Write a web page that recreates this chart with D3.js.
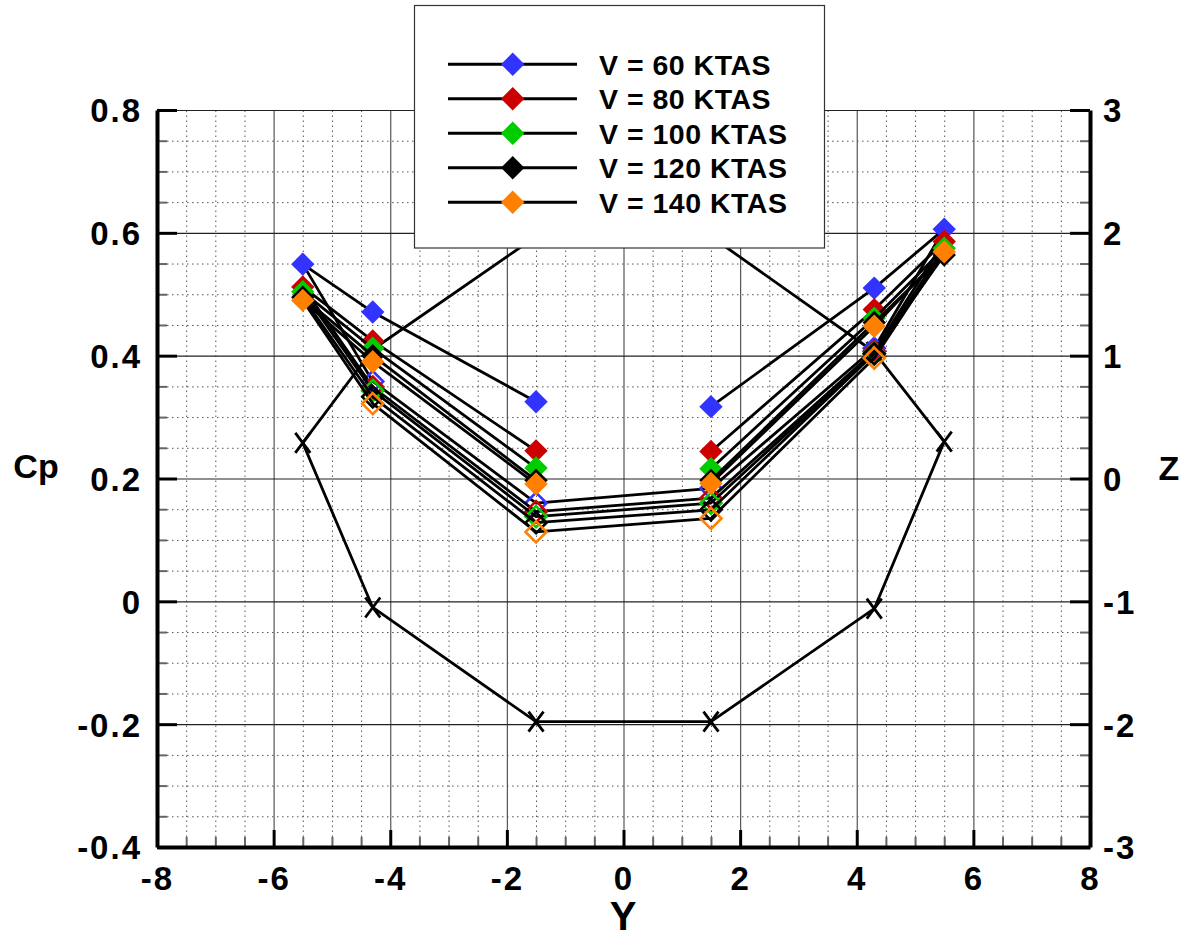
<!DOCTYPE html>
<html>
<head>
<meta charset="utf-8">
<script src="https://cdn.jsdelivr.net/npm/d3@7"></script>
<style>
  html, body { margin: 0; padding: 0; background: #fff; }
  svg { display: block; }
  text { font-family: "Liberation Sans", Arial, Helvetica, sans-serif; font-weight: bold; fill: #000; }
</style>
</head>
<body>
<svg id="chart" width="1189" height="940"></svg>
<script>
// ---------------- data ----------------
const stations = [-1.5, -4.3, -5.5, -4.3, -1.5, 1.5, 4.3, 5.5, 4.3, 1.5];
const surface  = ["top", "top", "side", "bot", "bot", "bot", "bot", "side", "top", "top"];

const seriesNames = ["V = 60 KTAS", "V = 80 KTAS", "V = 100 KTAS", "V = 120 KTAS", "V = 140 KTAS"];
const seriesColors = ["#3333ff", "#cc0000", "#00cc00", "#000000", "#ff8000"];

const cp60  = [0.325, 0.471, 0.549, 0.358, 0.160, 0.184, 0.412, 0.606, 0.510, 0.317];
const cp80  = [0.245, 0.424, 0.512, 0.349, 0.146, 0.168, 0.407, 0.586, 0.475, 0.244];
const cp100 = [0.217, 0.412, 0.504, 0.343, 0.138, 0.160, 0.404, 0.575, 0.461, 0.216];
const cp120 = [0.197, 0.400, 0.495, 0.333, 0.128, 0.149, 0.403, 0.564, 0.454, 0.197];
const cp140 = [0.191, 0.390, 0.490, 0.322, 0.113, 0.135, 0.396, 0.569, 0.448, 0.192];

const zValues = [1.97, 1.05, 0.29, -1.05, -1.98, -1.98, -1.06, 0.30, 1.03, 1.97];

const xTicks  = [-8, -6, -4, -2, 0, 2, 4, 6, 8];
const cpTicks = [-0.4, -0.2, 0, 0.2, 0.4, 0.6, 0.8];
const zTicks  = [-3, -2, -1, 0, 1, 2, 3];
const xMinor  = d3.range(-8, 8.001, 0.5);
const cpMinor = d3.range(-0.4, 0.8001, 0.05).map(v => +v.toFixed(2));
const zMinor  = d3.range(-3, 3.001, 0.25);

// ---------------- layout ----------------
const L = 157, R = 1090, T = 110, B = 847;
const svg = d3.select("#chart");

const x = d3.scaleLinear().domain([-8, 8]).range([L, R]);
const y = d3.scaleLinear().domain([-0.4, 0.8]).range([B, T]);
const z = d3.scaleLinear().domain([-3, 3]).range([B, T]);

const isMajor = (v, step) => Math.abs(v / step - Math.round(v / step)) < 1e-6;
const fmtInt = d => String(Math.round(d));            // plain hyphen minus
const fmtCp = d => Math.abs(d) < 1e-9 ? "0" : d.toFixed(1);

// ---------------- grid ----------------
const grid = svg.append("g");
grid.append("g").attr("transform", `translate(0,${B})`)
  .call(d3.axisBottom(x).tickValues(xMinor.filter(v => !isMajor(v, 2))).tickSize(-(B - T)).tickFormat(""))
  .call(g => g.select(".domain").remove())
  .call(g => g.selectAll("line").attr("stroke", "#555").attr("stroke-width", 1).attr("stroke-dasharray", "1.5,3.5"));
grid.append("g").attr("transform", `translate(${L},0)`)
  .call(d3.axisLeft(y).tickValues(cpMinor.filter(v => !isMajor(v, 0.2))).tickSize(-(R - L)).tickFormat(""))
  .call(g => g.select(".domain").remove())
  .call(g => g.selectAll("line").attr("stroke", "#555").attr("stroke-width", 1).attr("stroke-dasharray", "1.5,3.5"));
grid.append("g").attr("transform", `translate(0,${B})`)
  .call(d3.axisBottom(x).tickValues(xTicks.slice(1, -1)).tickSize(-(B - T)).tickFormat(""))
  .call(g => g.select(".domain").remove())
  .call(g => g.selectAll("line").attr("stroke", "#555").attr("stroke-width", 1.2));
grid.append("g").attr("transform", `translate(${L},0)`)
  .call(d3.axisLeft(y).tickValues(cpTicks.slice(1)).tickSize(-(R - L)).tickFormat(""))
  .call(g => g.select(".domain").remove())
  .call(g => g.selectAll("line").attr("stroke", "#222").attr("stroke-width", 1.2));

// ---------------- Z polyline ----------------
const zLine = d3.line().x((d, i) => x(stations[i])).y(d => z(d));
svg.append("path").datum(zValues).attr("d", zLine)
  .attr("fill", "none").attr("stroke", "#000").attr("stroke-width", 2.8).attr("stroke-linejoin", "round");
svg.append("g").selectAll("path").data(zValues).join("path")
  .attr("transform", (d, i) => `translate(${x(stations[i])},${z(d)})`)
  .attr("d", "M-7.5,-10L7.5,10M-7.5,10L7.5,-10")
  .attr("stroke", "#000").attr("stroke-width", 2.8).attr("fill", "none");

// ---------------- Cp series ----------------
const allCp = [cp60, cp80, cp100, cp120, cp140];
const cpLine = d3.line().x((d, i) => x(stations[i])).y(d => y(d));
const diamond = s => `M0,${-s}L${s},0L0,${s}L${-s},0Z`;

allCp.forEach((vals, k) => {
  const g = svg.append("g");
  g.append("path").datum(vals).attr("d", cpLine)
    .attr("fill", "none").attr("stroke", "#000").attr("stroke-width", 2.8).attr("stroke-linejoin", "round");
  g.selectAll("path.m").data(vals).join("path").attr("class", "m")
    .attr("transform", (d, i) => `translate(${x(stations[i])},${y(d)})`)
    .attr("d", (d, i) => surface[i] === "bot" ? diamond(10.5) : diamond(11.7))
    .attr("fill", (d, i) => surface[i] === "bot" ? "none" : seriesColors[k])
    .attr("stroke", (d, i) => surface[i] === "bot" ? seriesColors[k] : "none")
    .attr("stroke-width", 2.6);
});

// ---------------- axes ----------------
const styleAxis = (g, w) => g.select(".domain").attr("stroke", "#000").attr("stroke-width", w);
const labelStyle = g => g.selectAll("text").attr("font-size", 33).style("letter-spacing", "2px");

svg.append("g").attr("transform", `translate(${L},0)`)
  .call(d3.axisLeft(y).tickValues(cpMinor.filter(v => !isMajor(v, 0.2))).tickSize(-10).tickFormat("").tickSizeOuter(0))
  .call(g => g.select(".domain").remove())
  .call(g => g.selectAll("line").attr("stroke", "#666").attr("stroke-width", 2));
svg.append("g").attr("transform", `translate(${L},0)`)
  .call(d3.axisLeft(y).tickValues(cpTicks).tickSize(-20).tickPadding(15).tickSizeOuter(0).tickFormat(fmtCp))
  .call(g => styleAxis(g, 4))
  .call(g => g.selectAll("line").attr("stroke", "#000").attr("stroke-width", 3))
  .call(labelStyle)
  .call(g => g.selectAll("text").attr("dy", "0.36em"));

svg.append("g").attr("transform", `translate(${R},0)`)
  .call(d3.axisRight(z).tickValues(zMinor.filter(v => !isMajor(v, 1))).tickSize(-10).tickFormat("").tickSizeOuter(0))
  .call(g => g.select(".domain").remove())
  .call(g => g.selectAll("line").attr("stroke", "#666").attr("stroke-width", 2));
svg.append("g").attr("transform", `translate(${R},0)`)
  .call(d3.axisRight(z).tickValues(zTicks).tickSize(-20).tickPadding(13).tickSizeOuter(0).tickFormat(fmtInt))
  .call(g => styleAxis(g, 4))
  .call(g => g.selectAll("line").attr("stroke", "#000").attr("stroke-width", 3))
  .call(labelStyle)
  .call(g => g.selectAll("text").attr("dy", "0.36em"));

svg.append("g").attr("transform", `translate(0,${B})`)
  .call(d3.axisBottom(x).tickValues(xMinor.filter(v => !isMajor(v, 2))).tickSize(-10).tickFormat("").tickSizeOuter(0))
  .call(g => g.select(".domain").remove())
  .call(g => g.selectAll("line").attr("stroke", "#666").attr("stroke-width", 2));
svg.append("g").attr("transform", `translate(0,${B})`)
  .call(d3.axisBottom(x).tickValues(xTicks).tickSize(-17).tickPadding(12).tickSizeOuter(0).tickFormat(fmtInt))
  .call(g => styleAxis(g, 4))
  .call(g => g.selectAll("line").attr("stroke", "#000").attr("stroke-width", 3))
  .call(labelStyle)
  .call(g => g.selectAll("text").attr("dy", "0.95em"));

// axis titles
svg.append("text").attr("x", 36).attr("y", 478).attr("text-anchor", "middle").attr("font-size", 34).text("Cp");
svg.append("text").attr("x", 623).attr("y", 930).attr("text-anchor", "middle").attr("font-size", 40).text("Y");
svg.append("text").attr("x", 1169).attr("y", 480).attr("text-anchor", "middle").attr("font-size", 34).text("Z");

// ---------------- legend ----------------
const lg = svg.append("g");
lg.append("rect").attr("x", 414.5).attr("y", 5.5).attr("width", 410).attr("height", 242.5)
  .attr("fill", "#fff").attr("stroke", "#333").attr("stroke-width", 1.2);
const rowY = d3.scaleLinear().domain([0, 4]).range([64.3, 202.3]);
seriesNames.forEach((name, k) => {
  const ry = rowY(k);
  lg.append("line").attr("x1", 448).attr("x2", 577).attr("y1", ry).attr("y2", ry)
    .attr("stroke", "#000").attr("stroke-width", 3);
  lg.append("path").attr("transform", `translate(512.7,${ry})`).attr("d", diamond(11.7)).attr("fill", seriesColors[k]);
  lg.append("text").attr("x", 599).attr("y", ry + 10.3).attr("font-size", 28.5).style("letter-spacing", "0.5px").text(name);
});
</script>
</body>
</html>
